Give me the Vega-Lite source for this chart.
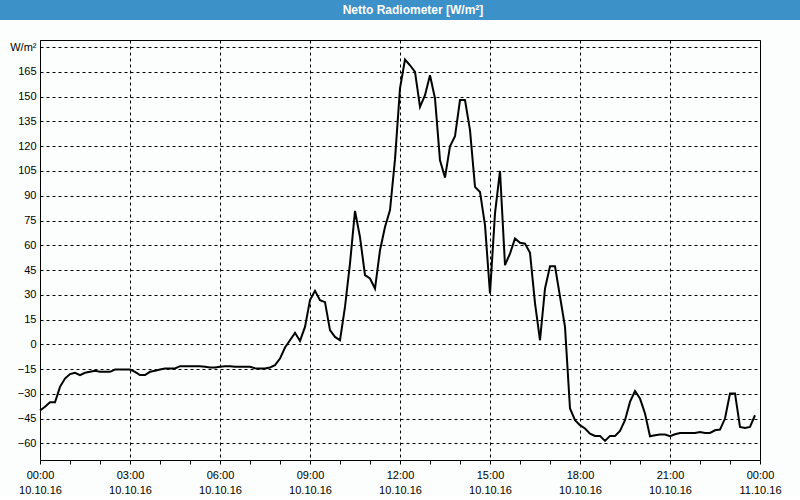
{
  "$schema": "https://vega.github.io/schema/vega-lite/v6.json",
  "background": "#fbfefc",
  "padding": 0,
  "spacing": 20,
  "bounds": "flush",
  "center": true,
  "vconcat": [
    {
      "width": 800,
      "height": 20,
      "view": {"fill": "#3c91c8", "stroke": null},
      "data": {"values": [{"title": "Netto Radiometer [W/m²]"}]},
      "mark": {"type": "text", "color": "white", "font": "Liberation Sans", "fontSize": 12, "fontWeight": "bold", "dx": 13},
      "encoding": {"text": {"field": "title", "type": "nominal"}}
    },
    {
      "width": 720,
      "height": 420,
      "view": {"stroke": "black", "strokeWidth": 1},
      "data": {"values": [
        {"t": "2016-10-10T00:00Z", "v": -40},
        {"t": "2016-10-10T00:10Z", "v": -37.8},
        {"t": "2016-10-10T00:20Z", "v": -35},
        {"t": "2016-10-10T00:30Z", "v": -35},
        {"t": "2016-10-10T00:40Z", "v": -25.7},
        {"t": "2016-10-10T00:50Z", "v": -20.7},
        {"t": "2016-10-10T01:00Z", "v": -18},
        {"t": "2016-10-10T01:10Z", "v": -17.2},
        {"t": "2016-10-10T01:20Z", "v": -18.6},
        {"t": "2016-10-10T01:30Z", "v": -17.2},
        {"t": "2016-10-10T01:40Z", "v": -16.6},
        {"t": "2016-10-10T01:50Z", "v": -16},
        {"t": "2016-10-10T02:00Z", "v": -16.6},
        {"t": "2016-10-10T02:10Z", "v": -16.6},
        {"t": "2016-10-10T02:20Z", "v": -16.6},
        {"t": "2016-10-10T02:30Z", "v": -15.2},
        {"t": "2016-10-10T02:40Z", "v": -15.2},
        {"t": "2016-10-10T02:50Z", "v": -15.2},
        {"t": "2016-10-10T03:00Z", "v": -15.2},
        {"t": "2016-10-10T03:10Z", "v": -16.6},
        {"t": "2016-10-10T03:20Z", "v": -18.6},
        {"t": "2016-10-10T03:30Z", "v": -18.6},
        {"t": "2016-10-10T03:40Z", "v": -16.6},
        {"t": "2016-10-10T03:50Z", "v": -16},
        {"t": "2016-10-10T04:00Z", "v": -15.2},
        {"t": "2016-10-10T04:10Z", "v": -14.6},
        {"t": "2016-10-10T04:20Z", "v": -14.6},
        {"t": "2016-10-10T04:30Z", "v": -14.6},
        {"t": "2016-10-10T04:40Z", "v": -13.2},
        {"t": "2016-10-10T04:50Z", "v": -13.2},
        {"t": "2016-10-10T05:00Z", "v": -13.2},
        {"t": "2016-10-10T05:10Z", "v": -13.2},
        {"t": "2016-10-10T05:20Z", "v": -13.2},
        {"t": "2016-10-10T05:30Z", "v": -13.6},
        {"t": "2016-10-10T05:40Z", "v": -14},
        {"t": "2016-10-10T05:50Z", "v": -14},
        {"t": "2016-10-10T06:00Z", "v": -13.6},
        {"t": "2016-10-10T06:10Z", "v": -13.2},
        {"t": "2016-10-10T06:20Z", "v": -13.2},
        {"t": "2016-10-10T06:30Z", "v": -13.6},
        {"t": "2016-10-10T06:40Z", "v": -13.6},
        {"t": "2016-10-10T06:50Z", "v": -13.6},
        {"t": "2016-10-10T07:00Z", "v": -13.6},
        {"t": "2016-10-10T07:10Z", "v": -14.4},
        {"t": "2016-10-10T07:20Z", "v": -14.6},
        {"t": "2016-10-10T07:30Z", "v": -14.6},
        {"t": "2016-10-10T07:40Z", "v": -14},
        {"t": "2016-10-10T07:50Z", "v": -12.6},
        {"t": "2016-10-10T08:00Z", "v": -8.6},
        {"t": "2016-10-10T08:10Z", "v": -1.9},
        {"t": "2016-10-10T08:20Z", "v": 2.5},
        {"t": "2016-10-10T08:30Z", "v": 7},
        {"t": "2016-10-10T08:40Z", "v": 2.1},
        {"t": "2016-10-10T08:50Z", "v": 10.6},
        {"t": "2016-10-10T09:00Z", "v": 26.8},
        {"t": "2016-10-10T09:10Z", "v": 32.4},
        {"t": "2016-10-10T09:20Z", "v": 26.8},
        {"t": "2016-10-10T09:30Z", "v": 25.6},
        {"t": "2016-10-10T09:40Z", "v": 8.6},
        {"t": "2016-10-10T09:50Z", "v": 4.5},
        {"t": "2016-10-10T10:00Z", "v": 2.5},
        {"t": "2016-10-10T10:10Z", "v": 22.7},
        {"t": "2016-10-10T10:20Z", "v": 49},
        {"t": "2016-10-10T10:30Z", "v": 80.8},
        {"t": "2016-10-10T10:40Z", "v": 65},
        {"t": "2016-10-10T10:50Z", "v": 41.9},
        {"t": "2016-10-10T11:00Z", "v": 39.9},
        {"t": "2016-10-10T11:10Z", "v": 33.8},
        {"t": "2016-10-10T11:20Z", "v": 57},
        {"t": "2016-10-10T11:30Z", "v": 71.1},
        {"t": "2016-10-10T11:40Z", "v": 81.3},
        {"t": "2016-10-10T11:50Z", "v": 112},
        {"t": "2016-10-10T12:00Z", "v": 155},
        {"t": "2016-10-10T12:10Z", "v": 172.5},
        {"t": "2016-10-10T12:20Z", "v": 169},
        {"t": "2016-10-10T12:30Z", "v": 165},
        {"t": "2016-10-10T12:40Z", "v": 143.8},
        {"t": "2016-10-10T12:50Z", "v": 150.9},
        {"t": "2016-10-10T13:00Z", "v": 163},
        {"t": "2016-10-10T13:10Z", "v": 148.9},
        {"t": "2016-10-10T13:20Z", "v": 111.5},
        {"t": "2016-10-10T13:30Z", "v": 101},
        {"t": "2016-10-10T13:40Z", "v": 120},
        {"t": "2016-10-10T13:50Z", "v": 126},
        {"t": "2016-10-10T14:00Z", "v": 147.9},
        {"t": "2016-10-10T14:10Z", "v": 147.9},
        {"t": "2016-10-10T14:20Z", "v": 129.7},
        {"t": "2016-10-10T14:30Z", "v": 95.4},
        {"t": "2016-10-10T14:40Z", "v": 92.3},
        {"t": "2016-10-10T14:50Z", "v": 72.2},
        {"t": "2016-10-10T15:00Z", "v": 30.8},
        {"t": "2016-10-10T15:10Z", "v": 79.3},
        {"t": "2016-10-10T15:20Z", "v": 105},
        {"t": "2016-10-10T15:30Z", "v": 48},
        {"t": "2016-10-10T15:40Z", "v": 55},
        {"t": "2016-10-10T15:50Z", "v": 64.1},
        {"t": "2016-10-10T16:00Z", "v": 61.5},
        {"t": "2016-10-10T16:10Z", "v": 61},
        {"t": "2016-10-10T16:20Z", "v": 55.4},
        {"t": "2016-10-10T16:30Z", "v": 25},
        {"t": "2016-10-10T16:40Z", "v": 2.5},
        {"t": "2016-10-10T16:50Z", "v": 33.8},
        {"t": "2016-10-10T17:00Z", "v": 47.3},
        {"t": "2016-10-10T17:10Z", "v": 47.3},
        {"t": "2016-10-10T17:20Z", "v": 29},
        {"t": "2016-10-10T17:30Z", "v": 10.6},
        {"t": "2016-10-10T17:40Z", "v": -38.8},
        {"t": "2016-10-10T17:50Z", "v": -45.9},
        {"t": "2016-10-10T18:00Z", "v": -48.9},
        {"t": "2016-10-10T18:10Z", "v": -50.9},
        {"t": "2016-10-10T18:20Z", "v": -54},
        {"t": "2016-10-10T18:30Z", "v": -55.4},
        {"t": "2016-10-10T18:40Z", "v": -55.4},
        {"t": "2016-10-10T18:50Z", "v": -58.4},
        {"t": "2016-10-10T19:00Z", "v": -55.4},
        {"t": "2016-10-10T19:10Z", "v": -55.4},
        {"t": "2016-10-10T19:20Z", "v": -52.4},
        {"t": "2016-10-10T19:30Z", "v": -45.9},
        {"t": "2016-10-10T19:40Z", "v": -34.8},
        {"t": "2016-10-10T19:50Z", "v": -28.2},
        {"t": "2016-10-10T20:00Z", "v": -32.8},
        {"t": "2016-10-10T20:10Z", "v": -41.8},
        {"t": "2016-10-10T20:20Z", "v": -55.6},
        {"t": "2016-10-10T20:30Z", "v": -55},
        {"t": "2016-10-10T20:40Z", "v": -54.6},
        {"t": "2016-10-10T20:50Z", "v": -54.6},
        {"t": "2016-10-10T21:00Z", "v": -55.6},
        {"t": "2016-10-10T21:10Z", "v": -54.4},
        {"t": "2016-10-10T21:20Z", "v": -53.6},
        {"t": "2016-10-10T21:30Z", "v": -53.6},
        {"t": "2016-10-10T21:40Z", "v": -53.6},
        {"t": "2016-10-10T21:50Z", "v": -53.6},
        {"t": "2016-10-10T22:00Z", "v": -53},
        {"t": "2016-10-10T22:10Z", "v": -53.6},
        {"t": "2016-10-10T22:20Z", "v": -53.6},
        {"t": "2016-10-10T22:30Z", "v": -52},
        {"t": "2016-10-10T22:40Z", "v": -51.6},
        {"t": "2016-10-10T22:50Z", "v": -44.9},
        {"t": "2016-10-10T23:00Z", "v": -29.7},
        {"t": "2016-10-10T23:10Z", "v": -29.7},
        {"t": "2016-10-10T23:20Z", "v": -50},
        {"t": "2016-10-10T23:30Z", "v": -50.6},
        {"t": "2016-10-10T23:40Z", "v": -50},
        {"t": "2016-10-10T23:50Z", "v": -42.9}
      ]},
      "mark": {"type": "line", "color": "black", "strokeWidth": 2},
      "encoding": {
        "x": {
          "field": "t",
          "type": "temporal",
          "scale": {
            "type": "utc",
            "domain": [
              {"year": 2016, "month": 10, "date": 10, "hours": 0, "utc": true},
              {"year": 2016, "month": 10, "date": 11, "hours": 0, "utc": true}
            ],
            "nice": false
          },
          "axis": {
            "title": null,
            "domain": false,
            "tickCount": 24,
            "tickSize": 4,
            "tickColor": "black",
            "grid": true,
            "gridColor": "black",
            "gridDash": [3, 3],
            "gridOpacity": {"condition": {"test": "utchours(datum.value) % 3 == 0", "value": 1}, "value": 0},
            "labelExpr": "utchours(datum.value) % 3 == 0 ? [utcFormat(datum.value, '%H:%M'), utcFormat(datum.value, '%d.%m.%y')] : ''",
            "labelFlush": false,
            "labelOverlap": false,
            "labelFont": "Liberation Sans",
            "labelFontSize": 11,
            "labelColor": "black",
            "labelPadding": 5,
            "labelLineHeight": 15
          }
        },
        "y": {
          "field": "v",
          "type": "quantitative",
          "scale": {"domain": [-70, 184.3], "nice": false, "zero": false},
          "axis": {
            "title": null,
            "values": [-60, -45, -30, -15, 0, 15, 30, 45, 60, 75, 90, 105, 120, 135, 150, 165, 180],
            "labelExpr": "datum.value == 180 ? 'W/m²' : datum.label",
            "domain": false,
            "ticks": false,
            "grid": true,
            "gridColor": "black",
            "gridDash": [3, 3],
            "labelFont": "Liberation Sans",
            "labelFontSize": 11,
            "labelColor": "black",
            "labelPadding": 4
          }
        }
      }
    }
  ]
}
